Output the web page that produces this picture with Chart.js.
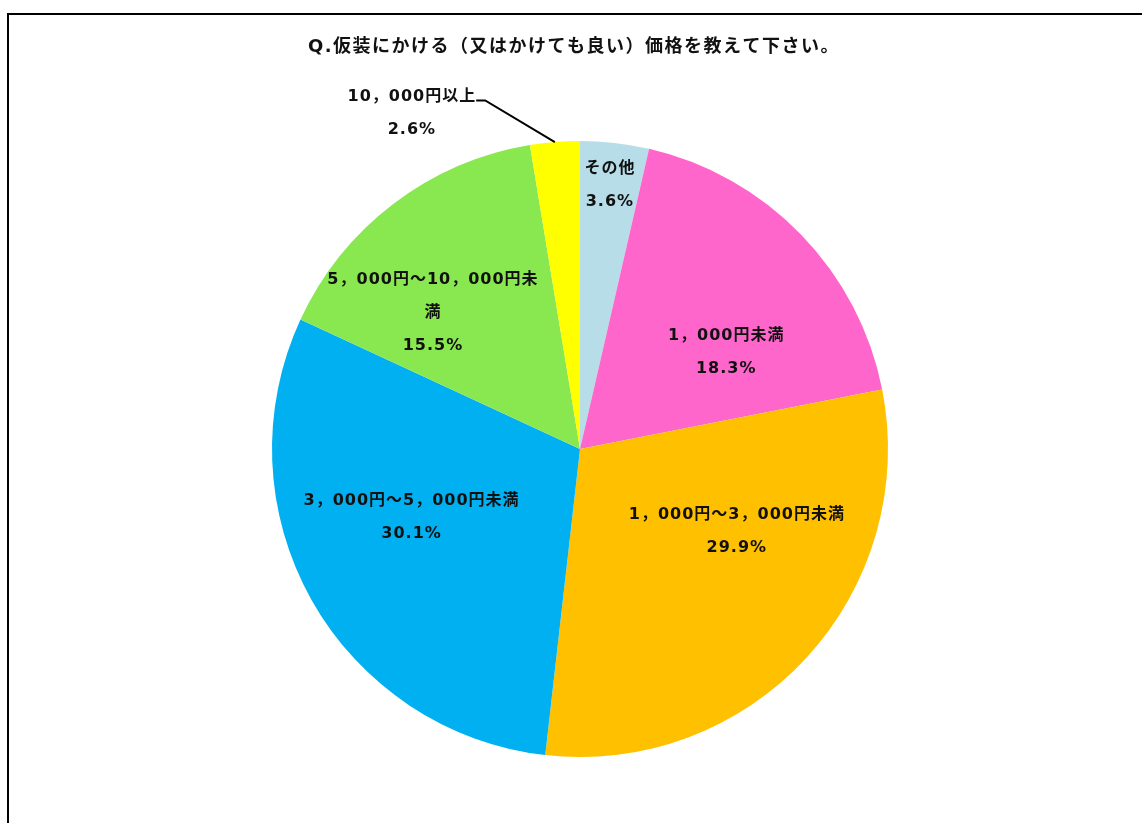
<!DOCTYPE html>
<html>
<head>
<meta charset="utf-8">
<script src="https://cdn.jsdelivr.net/npm/chart.js@4/dist/chart.umd.min.js"></script>
<style>
  body { margin: 0; background: #fff; overflow: hidden; }
  canvas { display: block; }
</style>
</head>
<body>
<canvas id="priceChart" width="1142" height="823"></canvas>
<script>
// data, clockwise from 12 o'clock
const titleText = 'Q.仮装にかける（又はかけても良い）価格を教えて下さい。'
const categories = ['その他', '1，000円未満', '1，000円～3，000円未満', '3，000円～5，000円未満', '5，000円～10，000円未満', '10，000円以上']
const shares = [3.6, 18.3, 29.9, 30.1, 15.5, 2.6]

const sliceColors = ['#B7DEE8', '#FF66CC', '#FFC000', '#00B0F0', '#89E850', '#FFFF00']

// where each label sits: fraction of radius, angle nudge in degrees
const labelSpots = [
    {r: 0.86, da: 0},
    {r: 0.57, da: 10.5},
    {r: 0.575, da: -15},
    {r: 0.59, da: 7.3},
    {r: 0.65, da: -10, wrap: 215},
    {r: 1.22, da: -21.9, outside: true}
]

const labelFont = 'bold 16px "DejaVu Sans", "Noto Sans CJK JP", sans-serif'
const lineGap = 33

function wrapText(ctx, text, maxW){
    if(!maxW) return [text]
    const lines = []
    let cur = ''
    for(const ch of text){
        if(cur && ctx.measureText(cur + ch).width > maxW){
            lines.push(cur)
            cur = ch
        } else {
            cur += ch
        }
    }
    if(cur) lines.push(cur)
    return lines
}

const pieDecor = {
    id: 'pieDecor',
    beforeDraw(chart){
        const ctx = chart.ctx
        ctx.save()
        // frame (runs off the right and bottom edge like the source)
        ctx.strokeStyle = '#000'
        ctx.lineWidth = 2
        ctx.beginPath()
        ctx.moveTo(1142, 14)
        ctx.lineTo(8, 14)
        ctx.lineTo(8, 823)
        ctx.stroke()

        ctx.fillStyle = '#111'
        ctx.font = 'bold 18px "DejaVu Sans", "Noto Sans CJK JP", sans-serif'
        ctx.letterSpacing = '1.5px'
        ctx.textAlign = 'center'
        ctx.textBaseline = 'middle'
        ctx.fillText(titleText, 574, 47)
        ctx.restore()
    },
    afterDatasetsDraw(chart){
        const ctx = chart.ctx
        const meta = chart.getDatasetMeta(0)
        ctx.save()
        ctx.font = labelFont
        ctx.letterSpacing = '1px'
        ctx.fillStyle = '#111'
        ctx.textAlign = 'center'
        ctx.textBaseline = 'middle'

        meta.data.forEach((arc, i) => {
            const spot = labelSpots[i]
            const midRaw = (arc.startAngle + arc.endAngle) / 2
            const mid = midRaw + spot.da * Math.PI / 180
            const x = arc.x + Math.cos(mid) * arc.outerRadius * spot.r
            const y = arc.y + Math.sin(mid) * arc.outerRadius * spot.r

            const lines = wrapText(ctx, categories[i], spot.wrap)
            lines.push(shares[i].toFixed(1) + '%')
            const y0 = y - (lines.length - 1) * lineGap / 2
            lines.forEach((ln, k) => ctx.fillText(ln, x, y0 + k * lineGap))

            if(spot.outside){
                const w = ctx.measureText(lines[0]).width
                const right = x + w / 2
                const ex = arc.x + Math.cos(midRaw) * arc.outerRadius
                const ey = arc.y + Math.sin(midRaw) * arc.outerRadius
                ctx.strokeStyle = '#000'
                ctx.lineWidth = 2
                ctx.beginPath()
                ctx.moveTo(right, y0 + 4)
                ctx.lineTo(right + 9, y0 + 4)
                ctx.lineTo(ex, ey)
                ctx.stroke()
            }
        })
        ctx.restore()
    }
}

const chartElem = document.getElementById('priceChart')
const myChart = new Chart(chartElem, {
    type: 'pie',
    data: {
        labels: categories,
        datasets: [{
            data: shares,
            backgroundColor: sliceColors,
            borderWidth: 0
        }]
    },
    options: {
        responsive: false,
        animation: false,
        layout: {padding: {top: 141, bottom: 66, left: 18, right: 0}},
        plugins: {
            legend: {display: false},
            tooltip: {enabled: false}
        }
    },
    plugins: [pieDecor]
})
</script>
</body>
</html>
